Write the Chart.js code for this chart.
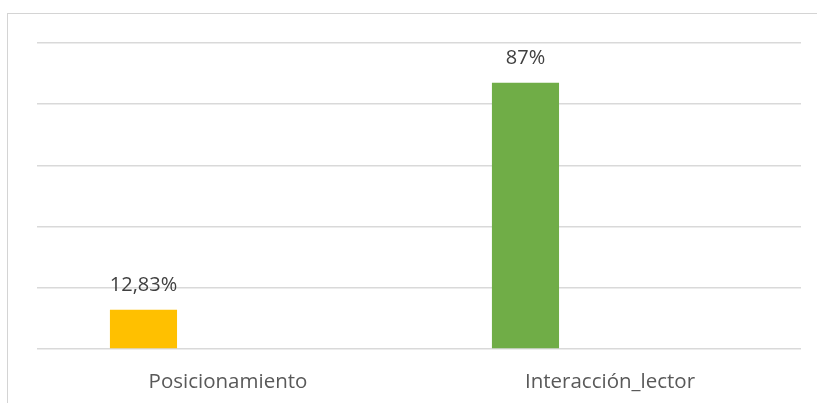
<!DOCTYPE html>
<html>
<head>
<meta charset="utf-8">
<script src="https://cdn.jsdelivr.net/npm/chart.js@4.4.1/dist/chart.umd.min.js"></script>
<style>
  html,body{margin:0;padding:0;background:#fff;overflow:hidden;}
  #wrap{position:relative;width:817px;height:403px;}
  #frame{position:absolute;left:7px;top:13px;width:900px;height:500px;border:1px solid #d4d4d4;box-sizing:border-box;}
  canvas{position:absolute;left:0;top:0;}
</style>
</head>
<body>
<div id="wrap">
  <div id="frame"></div>
  <canvas id="chart" width="817" height="403"></canvas>
</div>
<script>
// categories and values (percent)
const categories = ["Posicionamiento", "Interacción_lector"];
const values = [12.83, 87];
const valueLabels = ["12,83%", "87%"];
const barColors = ["#FFC000", "#70AD47"];
// second (empty) series keeps the bars left in each group, like the original
const emptySeries = [null, null];

// draws the value text above each bar
const valueLabelPlugin = {
  id: "valueLabels",
  afterDatasetsDraw(chart){
    const ctx = chart.ctx;
    const meta = chart.getDatasetMeta(0);
    ctx.save();
    ctx.font = "20px 'Open Sans'";
    ctx.fillStyle = "#404040";
    ctx.textAlign = "center";
    ctx.textBaseline = "alphabetic";
    meta.data.forEach((bar, i) => {
      ctx.fillText(valueLabels[i], bar.x, bar.y - 19);
    });
    ctx.restore();
  }
};

new Chart(document.getElementById("chart"), {
  type: "bar",
  data: {
    labels: categories,
    datasets: [
      {data: values, backgroundColor: barColors, categoryPercentage: 0.885, barPercentage: 0.397},
      {data: emptySeries, backgroundColor: "#A5A5A5", categoryPercentage: 0.885, barPercentage: 0.397}
    ]
  },
  options: {
    responsive: false,
    animation: false,
    layout: {padding: {left: 37, right: 16, top: 43, bottom: 0}},
    plugins: {legend: {display: false}, tooltip: {enabled: false}},
    scales: {
      x: {
        grid: {display: false, drawTicks: false},
        border: {display: false},
        ticks: {font: {family: "'Open Sans'", size: 20.5}, color: "#595959", padding: 21, maxRotation: 0},
        afterFit(scale){ scale.height = 54; }
      },
      y: {
        min: 0, max: 100,
        ticks: {display: false, stepSize: 20},
        grid: {color: "#d9d9d9", lineWidth: 1.5, drawTicks: false},
        border: {display: false}
      }
    }
  },
  plugins: [valueLabelPlugin]
});
</script>
</body>
</html>
